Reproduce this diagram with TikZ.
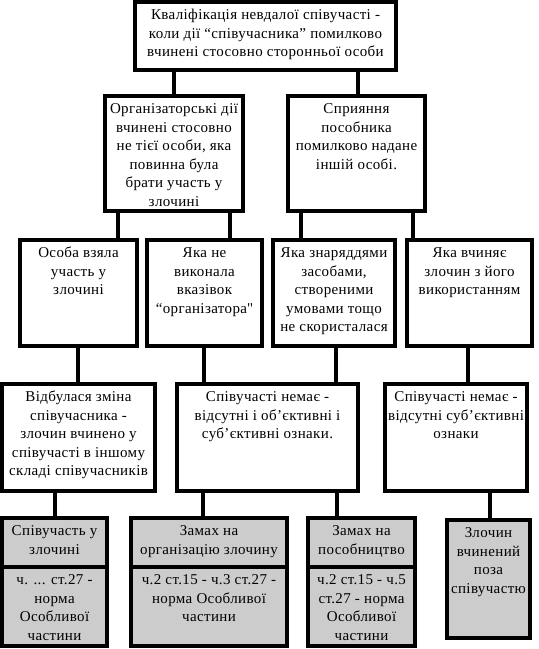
\documentclass[tikz,border=0pt]{standalone}
\usepackage{fontspec}
\setmainfont[LetterSpace=2.5]{Liberation Serif}
\usepackage{xcolor}
\usepackage{tikz}
\usetikzlibrary{positioning}
\definecolor{boxgray}{RGB}{204,204,204}
\newcommand{\boxtxt}[3]{\parbox[c][#2][t]{#1}{\centering\rule{0pt}{17.5pt}#3}}
\tikzset{
  blk/.style ={rectangle, draw=black, fill=white, line width=4.5pt, inner sep=0pt,
               outer sep=0pt, anchor=north west, font=\fontsize{15}{18.5}\selectfont},
  blkg/.style={blk, fill=boxgray},
  ln/.style  ={draw=black, line width=4pt},
}

\begin{document}
\begin{tikzpicture}[x=1pt, y=-1pt]
\useasboundingbox (0,0) rectangle (539,649);
\node[blk] (l1) at (135,2) {\boxtxt{261pt}{68pt}{Кваліфікація невдалої співучасті -\\ коли дії “співучасника” помилково\\ вчинені стосовно сторонньої особи}};
\node[blk] (l2a) at (105,96) {\boxtxt{138pt}{115pt}{Організаторські дії\\ вчинені стосовно\\ не тієї особи, яка\\ повинна була\\ брати участь у\\ злочині}};
\node[blk] (l2b) at (288,96) {\boxtxt{137pt}{115pt}{Сприяння\\ пособника\\ помилково надане\\ іншій особі.}};
\node[blk] (l3a) at (20,240) {\boxtxt{117pt}{106pt}{Особа взяла\\ участь у\\ злочині}};
\node[blk] (l3b) at (147,240) {\boxtxt{115pt}{106pt}{Яка не\\ виконала\\ вказівок\\ “організатора\textquotedbl}};
\node[blk] (l3c) at (273,240) {\boxtxt{122pt}{106pt}{Яка знаряддями\\ засобами,\\ створеними\\ умовами тощо\\ не скористалася}};
\node[blk] (l3d) at (407,240) {\boxtxt{125pt}{106pt}{Яка вчиняє\\ злочин з його\\ використанням}};
\node[blk] (l4a) at (2,384) {\boxtxt{153pt}{107pt}{Відбулася зміна\\ співучасника -\\ злочин вчинено у\\ співучасті в іншому\\ складі співучасників}};
\node[blk] (l4b) at (177,384) {\boxtxt{181pt}{107pt}{Співучасті немає -\\ відсутні і об’єктивні і\\ суб’єктивні ознаки.}};
\node[blk] (l4c) at (385,384) {\boxtxt{142pt}{107pt}{Співучасті немає -\\ відсутні суб’єктивні\\ ознаки}};
\node[blkg] (l5a) at (2,518) {\boxtxt{105pt}{49pt}{Співучасть у\\ злочині}};
\node[blkg] (l5an) at (2,567) {\boxtxt{105pt}{79pt}{ч. ... ст.27 -\\ норма\\ Особливої\\ частини}};
\node[blkg] (l5b) at (131,518) {\boxtxt{156pt}{49pt}{Замах на\\ організацію злочину}};
\node[blkg] (l5bn) at (131,567) {\boxtxt{156pt}{79pt}{ч.2 ст.15 - ч.3 ст.27 -\\ норма Особливої\\ частини}};
\node[blkg] (l5c) at (308,518) {\boxtxt{107pt}{49pt}{Замах на\\ пособництво}};
\node[blkg] (l5cn) at (308,567) {\boxtxt{107pt}{79pt}{ч.2 ст.15 - ч.5\\ ст.27 - норма\\ Особливої\\ частини}};
\node[blkg] (l5d) at (447,520) {\boxtxt{83pt}{118pt}{Злочин\\ вчинений\\ поза\\ співучастю}};
\draw[ln] (l1.south -| 174,0)--(l2a.north -| 174,0); \draw[ln] (l1.south -| 358,0)--(l2b.north -| 358,0);
\draw[ln] (l2a.south -| 118,0)--(l3a.north -| 118,0); \draw[ln] (l2a.south -| 230,0)--(l3b.north -| 230,0);
\draw[ln] (l2b.south -| 301,0)--(l3c.north -| 301,0); \draw[ln] (l2b.south -| 413,0)--(l3d.north -| 413,0);
\draw[ln] (l3a.south -| 78,0)--(l4a.north -| 78,0); \draw[ln] (l3b.south -| 204,0)--(l4b.north -| 204,0);
\draw[ln] (l3c.south -| 336,0)--(l4b.north -| 336,0); \draw[ln] (l3d.south -| 468,0)--(l4c.north -| 468,0);
\draw[ln] (l4a.south -| 55,0)--(l5a.north -| 55,0); \draw[ln] (l4b.south -| 203,0)--(l5b.north -| 203,0);
\draw[ln] (l4b.south -| 337,0)--(l5c.north -| 337,0); \draw[ln] (l4c.south -| 490,0)--(l5d.north -| 490,0);
\end{tikzpicture}
\end{document}
